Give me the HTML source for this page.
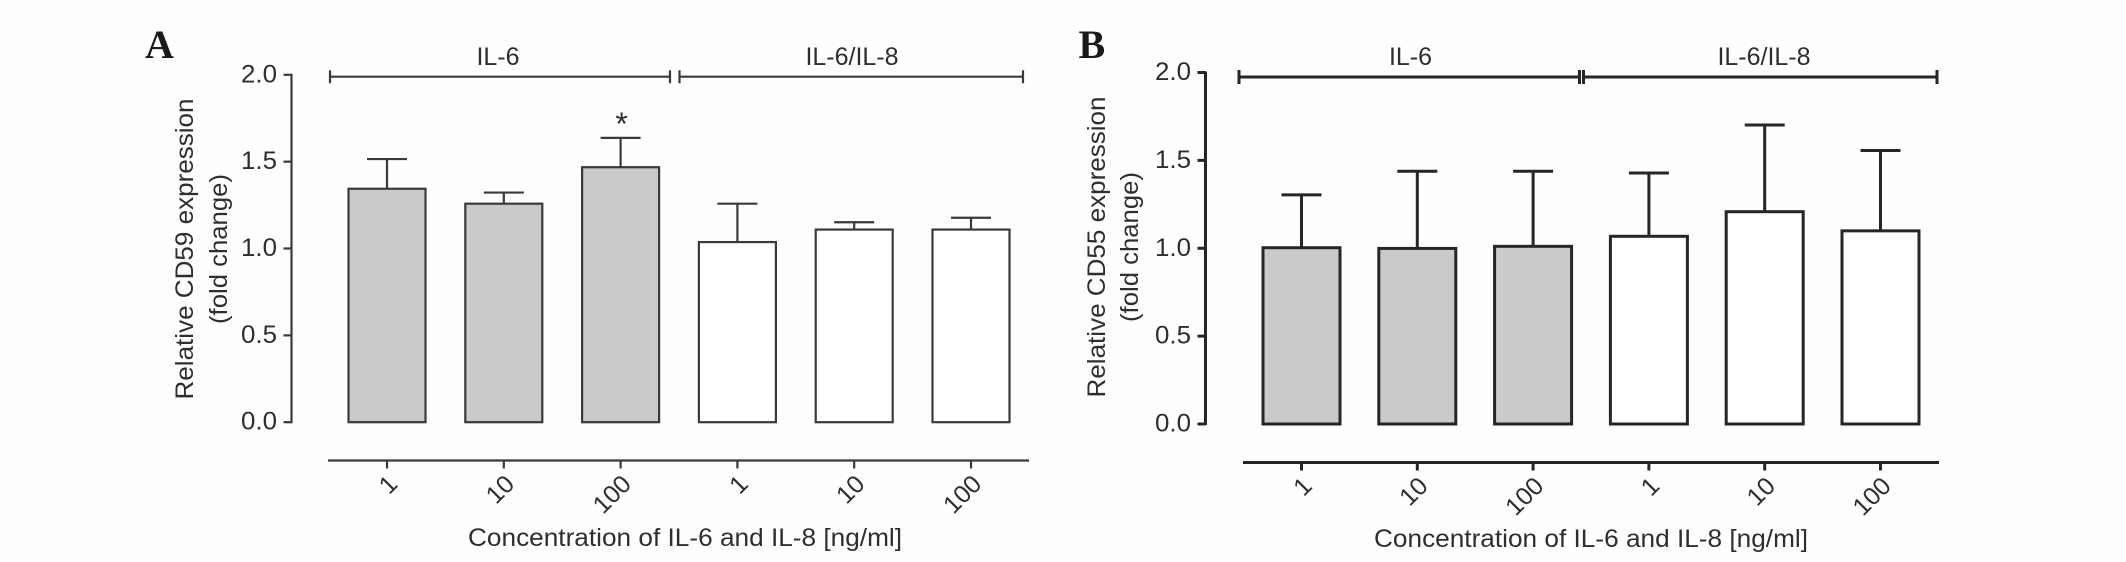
<!DOCTYPE html>
<html>
<head>
<meta charset="utf-8">
<title>CD59 and CD55 expression</title>
<style>
html,body{margin:0;padding:0;background:#fefefe;width:2126px;height:562px;overflow:hidden}
svg{display:block}
text{font-family:"Liberation Sans",Arial,sans-serif;fill:#2e2e2e;font-size:25px}
.panel-letter{font-family:"Liberation Serif",serif;font-weight:bold;font-size:40px;fill:#1a1a1a}
</style>
</head>
<body>
<svg id="chart" xmlns="http://www.w3.org/2000/svg" width="2126" height="562" viewBox="0 0 2126 562"></svg>
<script>
const categories = ['1', '10', '100', '1', '10', '100'];
const yTickValues = [0, 0.5, 1, 1.5, 2];
const yTickLabels = ['0.0', '0.5', '1.0', '1.5', '2.0'];
const groupLabels = ['IL-6', 'IL-6/IL-8'];
const xAxisTitle = 'Concentration of IL-6 and IL-8 [ng/ml]';

const cd59Means = [1.344, 1.258, 1.468, 1.037, 1.109, 1.109];
const cd59Upper = [1.515, 1.322, 1.637, 1.258, 1.151, 1.177];
const cd59Significant = [false, false, true, false, false, false];

const cd55Means = [1.003, 0.999, 1.011, 1.068, 1.208, 1.099];
const cd55Upper = [1.304, 1.438, 1.438, 1.428, 1.701, 1.556];
const cd55Significant = [false, false, false, false, false, false];

const svg = document.getElementById('chart');
const NS = 'http://www.w3.org/2000/svg';

function add(parent, tag, attrs, content) {
  const el = document.createElementNS(NS, tag);
  for (const k in attrs) el.setAttribute(k, attrs[k]);
  if (content !== undefined) el.textContent = content;
  parent.appendChild(el);
  return el;
}

function drawPanel(cfg, means, upper, significant) {
  const g = add(svg, 'g', {});
  
  

  const yScale = v => cfg.y0 + (cfg.y2 - cfg.y0) * v / 2;
  const xBand = i => cfg.x0 + cfg.step * i;
  const stroke = {stroke: cfg.color, 'stroke-width': cfg.lw, fill: 'none'};

  const letter = add(g, 'text', {x: cfg.letterX, y: 58, class: 'panel-letter'}, cfg.letter);
  
  

  // y axis
  const yAxis = add(g, 'line', Object.assign({x1: cfg.axisX, x2: cfg.axisX, y1: yScale(2) - 1, y2: yScale(0) + 1}, stroke));
  
  
  yTickValues.forEach((v, i) => {
    const tick = add(g, 'line', Object.assign({x1: cfg.axisX - 8, x2: cfg.axisX, y1: yScale(v), y2: yScale(v)}, stroke));
    
    
    const label = add(g, 'text', {x: cfg.axisX - 14.5, y: yScale(v) + 7.5, 'text-anchor': 'end', textLength: 36, lengthAdjust: 'spacingAndGlyphs'}, yTickLabels[i]);
    
    
  });

  // y axis title
  const t1 = add(g, 'text', {transform: `translate(${cfg.titleX1},${cfg.titleCy}) rotate(-90)`, 'text-anchor': 'middle', textLength: 301, lengthAdjust: 'spacingAndGlyphs'}, cfg.yTitle);
  
  
  const t2 = add(g, 'text', {transform: `translate(${cfg.titleX2},${cfg.titleCy}) rotate(-90)`, 'text-anchor': 'middle', textLength: 150, lengthAdjust: 'spacingAndGlyphs'}, '(fold change)');
  
  

  // bars and error bars
  categories.forEach((c, i) => {
    const cx = xBand(i);
    const top = yScale(means[i]);
    const hi = yScale(upper[i]);
    const err = add(g, 'line', Object.assign({x1: cx, x2: cx, y1: hi, y2: top}, stroke));
    
    
    const cap = add(g, 'line', Object.assign({x1: cx - 20, x2: cx + 20, y1: hi, y2: hi}, stroke));
    
    
    const bar = add(g, 'rect', {x: cx - 38.5, y: top, width: 77, height: yScale(0) - top, fill: i < 3 ? '#c9cacc' : '#ffffff', stroke: cfg.color, 'stroke-width': cfg.lw});
    
    
    if (significant[i]) {
      const star = add(g, 'text', {x: cx + 1, y: hi - 3, 'text-anchor': 'middle', style: 'font-size:32px'}, '*');
      
      
    }
    const tick = add(g, 'line', Object.assign({x1: cx, x2: cx, y1: cfg.xAxisY, y2: cfg.xAxisY + 8}, stroke));
    
    
    const label = add(g, 'text', {transform: `translate(${cx + 12},${cfg.xAxisY + 25}) rotate(-45)`, 'text-anchor': 'end'}, c);
    
    
  });

  // x axis
  const xAxis = add(g, 'line', Object.assign({x1: cfg.xAxisL, x2: cfg.xAxisR, y1: cfg.xAxisY, y2: cfg.xAxisY}, stroke));
  
  
  const xTitle = add(g, 'text', {x: cfg.xTitleCx, y: cfg.xTitleY, 'text-anchor': 'middle', textLength: 434, lengthAdjust: 'spacingAndGlyphs'}, xAxisTitle);
  
  

  // group brackets
  cfg.brackets.forEach((b, i) => {
    const path = add(g, 'path', Object.assign({d: `M${b[0]} ${cfg.brY - cfg.brH}V${cfg.brY + cfg.brH}M${b[0]} ${cfg.brY}H${b[1]}M${b[1]} ${cfg.brY - cfg.brH}V${cfg.brY + cfg.brH}`}, stroke));
    
    
    const label = add(g, 'text', {x: b[2], y: 65, 'text-anchor': 'middle'}, groupLabels[i]);
    
    
  });
}

drawPanel({
  id: 'cd59', letter: 'A', letterX: 145, yTitle: 'Relative CD59 expression',
  y0: 422.2, y2: 74.8, axisX: 291.5, x0: 387, step: 116.8, lw: 2.2, color: '#3a3a3a',
  titleX1: 193, titleX2: 227, titleCy: 249,
  xAxisY: 460.5, xAxisL: 328, xAxisR: 1029, xTitleCx: 685, xTitleY: 546,
  brY: 76.7, brH: 6.5, brackets: [[330, 670, 498], [679.5, 1023, 852]]
}, cd59Means, cd59Upper, cd59Significant);

drawPanel({
  id: 'cd55', letter: 'B', letterX: 1078.5, yTitle: 'Relative CD55 expression',
  y0: 424, y2: 72.5, axisX: 1205.5, x0: 1301.5, step: 115.8, lw: 3, color: '#262626',
  titleX1: 1105, titleX2: 1138, titleCy: 247,
  xAxisY: 462.5, xAxisL: 1243, xAxisR: 1939, xTitleCx: 1591, xTitleY: 547,
  brY: 77, brH: 7, brackets: [[1239, 1579.5, 1410.5], [1583.5, 1937, 1764]]
}, cd55Means, cd55Upper, cd55Significant);
</script>
</body>
</html>
